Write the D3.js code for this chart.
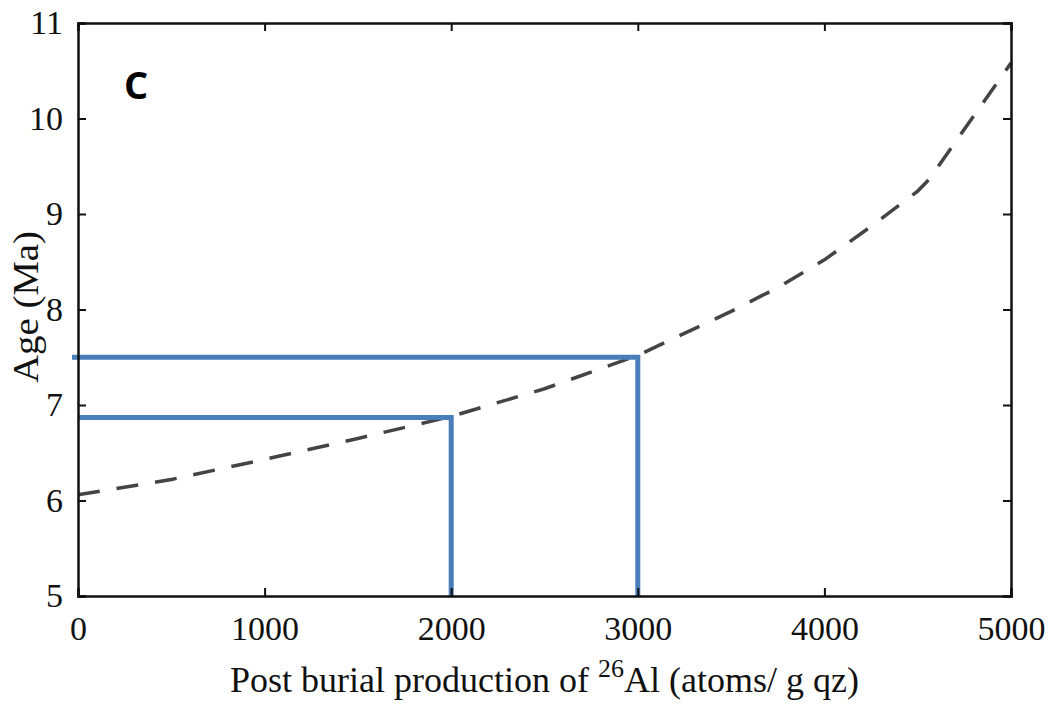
<!DOCTYPE html>
<html>
<head>
<meta charset="utf-8">
<script src="https://cdn.jsdelivr.net/npm/d3@7"></script>
<style>
  body { margin: 0; background: #fff; }
  .tick text { font-family: 'Liberation Serif', 'Times New Roman', serif; font-size: 34px; fill: #111; }
  .axis path, .axis line { stroke: #111; }
</style>
</head>
<body>
<script>
// post burial production (atoms/g qz) vs age (Ma)
const production = [0, 500, 1000, 1500, 2000, 2500, 3000, 3500, 3750, 4000, 4250, 4500, 4560, 5000]
const age = [6.06, 6.22, 6.43, 6.65, 6.88, 7.17, 7.52, 7.98, 8.23, 8.52, 8.87, 9.24, 9.36, 10.58]

const xTicks = [0, 1000, 2000, 3000, 4000, 5000]
const yTicks = [5, 6, 7, 8, 9, 10, 11]

// the two read-off guides (production, age)
const guideProd = [2000, 3000]
const guideAge = [6.87, 7.5]

const svg = d3.select('body').append('svg')
  .attr('width', 1056)
  .attr('height', 706)

const margin = { top: 23, right: 45, bottom: 110, left: 78 }
const width = 1056 - margin.left - margin.right
const height = 706 - margin.top - margin.bottom

const x = d3.scaleLinear().domain([0, 5000]).range([0, width])
const y = d3.scaleLinear().domain([5, 11]).range([height, 0])

const g = svg.append('g').attr('transform', `translate(${margin.left},${margin.top})`)

const data = production.map((p, i) => ({ p: p, a: age[i] }))

// dashed curve
g.append('path')
  .datum(data)
  .attr('fill', 'none')
  .attr('stroke', '#444')
  .attr('stroke-width', 3.5)
  .attr('stroke-dasharray', '22 17')
  .attr('d', d3.line().x((d) => x(d.p)).y((d) => y(d.a)))

// blue guide lines
guideProd.forEach((p, i) => {
  const x0 = i === 1 ? -6 : 0
  g.append('path')
    .attr('fill', 'none')
    .attr('stroke', '#4a7ebb')
    .attr('stroke-width', 5)
    .attr('d', `M${x0},${y(guideAge[i])}H${x(p)}V${height}`)
})

// axes, ticks pointing inward
g.append('g')
  .attr('class', 'axis')
  .attr('transform', `translate(0,${height})`)
  .call(d3.axisBottom(x).tickValues(xTicks).tickSize(-8).tickPadding(20).tickFormat(d3.format('d')))

g.append('g')
  .attr('class', 'axis')
  .call(d3.axisLeft(y).tickValues(yTicks).tickSize(-8).tickPadding(15).tickFormat(d3.format('d')))

g.append('g')
  .attr('class', 'axis')
  .call(d3.axisTop(x).tickValues(xTicks).tickSize(-8).tickFormat(''))

g.append('g')
  .attr('class', 'axis')
  .attr('transform', `translate(${width},0)`)
  .call(d3.axisRight(y).tickValues(yTicks).tickSize(-8).tickFormat(''))

g.selectAll('.axis path').attr('stroke-width', 2.5)
g.selectAll('.axis line').attr('stroke-width', 2)

// axis titles
const xl = svg.append('text')
  .attr('x', margin.left + width / 2)
  .attr('y', 692)
  .attr('text-anchor', 'middle')
  .style('font-family', "'Liberation Serif', 'Times New Roman', serif")
  .style('font-size', '36px')
  .attr('fill', '#111')
xl.append('tspan').text('Post burial production of ')
xl.append('tspan').attr('dy', -15).style('font-size', '26px').text('26')
xl.append('tspan').attr('dy', 15).text('Al (atoms/ g qz)')

svg.append('text')
  .attr('transform', `translate(38,307) rotate(-90)`)
  .attr('text-anchor', 'middle')
  .attr('textLength', 152)
  .attr('lengthAdjust', 'spacingAndGlyphs')
  .style('font-family', "'Liberation Serif', 'Times New Roman', serif")
  .style('font-size', '35px')
  .attr('fill', '#111')
  .text('Age (Ma)')

// panel letter
svg.append('text')
  .attr('x', 124)
  .attr('y', 99)
  .style('font-family', "'Open Sans', sans-serif")
  .style('font-weight', 'bold')
  .style('font-size', '38px')
  .attr('fill', '#000')
  .text('C')
</script>
</body>
</html>
